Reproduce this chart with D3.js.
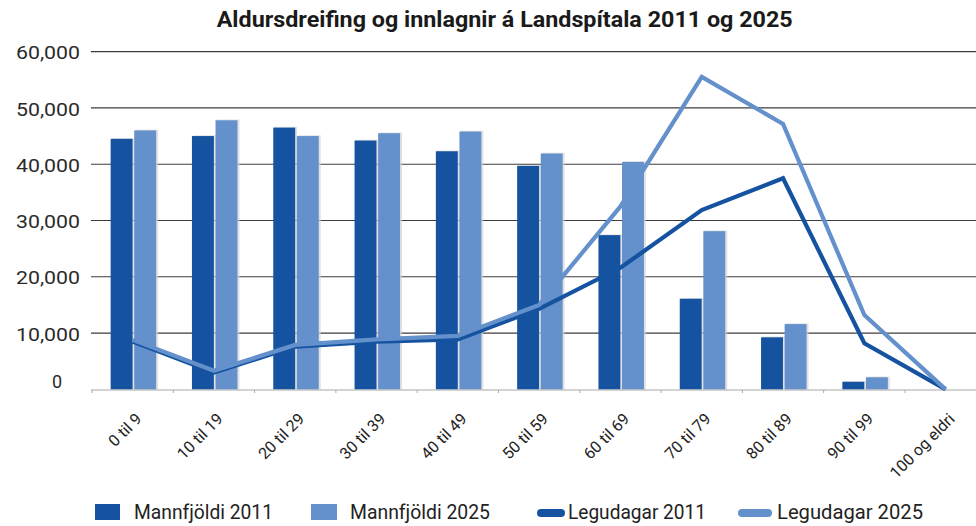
<!DOCTYPE html>
<html>
<head>
<meta charset="utf-8">
<script src="https://cdn.jsdelivr.net/npm/d3@7/dist/d3.min.js"></script>
<style>
  html, body { margin: 0; padding: 0; background: #fff; }
  svg { display: block; font-family: Roboto, "Noto Sans", sans-serif; }
</style>
</head>
<body>
<svg id="chart" width="976" height="526"></svg>
<script>
const title = "Aldursdreifing og innlagnir á Landspítala 2011 og 2025";
const categories = ["0 til 9","10 til 19","20 til 29","30 til 39","40 til 49","50 til 59","60 til 69","70 til 79","80 til 89","90 til 99","100 og eldri"];
const mannfjoldi2011 = [44500, 45000, 46500, 44200, 42300, 39700, 27400, 16100, 9250, 1350, 0];
const mannfjoldi2025 = [46000, 47800, 45000, 45500, 45800, 41900, 40400, 28100, 11600, 2150, 0];
const legudagar2011 = [8500, 3000, 7600, 8500, 8900, 14300, 21600, 31850, 37500, 8200, 0];
const legudagar2025 = [8800, 3300, 7900, 8900, 9500, 15000, 32500, 55500, 47150, 13200, 0];
const yTicks = [0, 10000, 20000, 30000, 40000, 50000, 60000];
const seriesNames = ["Mannfjöldi 2011", "Mannfjöldi 2025", "Legudagar 2011", "Legudagar 2025"];
const colors = {dark: "#1553a1", light: "#6491cb"};

const svg = d3.select("#chart");
const x = d3.scaleBand().domain(categories).range([92, 986.3]).padding(0);
const y = d3.scaleLinear().domain([0, 60000]).range([389.4, 51.6]);
const xSub = d3.scaleBand().domain(["2011", "2025"]).range([-22, 23.5]).paddingInner(0.07);
const cx = c => x(c) + x.bandwidth() / 2;

// Title
svg.append("text").attr("x", 504.7).attr("y", 26.7).attr("text-anchor", "middle")
  .attr("font-size", 22).attr("font-weight", "bold").attr("fill", "#1a1a1a")
  .attr("textLength", 576).attr("lengthAdjust", "spacingAndGlyphs").text(title);

// Gridlines
svg.append("g").selectAll("line").data(yTicks.filter(d => d > 0)).join("line")
  .attr("x1", 91).attr("x2", 976).attr("y1", d => y(d)).attr("y2", d => y(d))
  .attr("stroke", "#3c3c3c").attr("stroke-width", 1.1);

// Y labels
svg.append("g").selectAll("text").data(yTicks).join("text")
  .attr("x", d => d === 0 ? 62 : 80)
  .attr("y", d => d === 0 ? y(d) - 1 : y(d) + 7.6)
  .attr("text-anchor", "end").attr("font-size", 18).attr("fill", "#2a2a2a")
  .each(function(d) { if (d !== 0) d3.select(this).attr("textLength", 64).attr("lengthAdjust", "spacingAndGlyphs"); })
  .text(d => d3.format(",")(d));

// Bars
const barData = [];
categories.forEach((c, i) => {
  barData.push({c, s: "2011", v: mannfjoldi2011[i], col: colors.dark});
  barData.push({c, s: "2025", v: mannfjoldi2025[i], col: colors.light});
});
const visibleBars = barData.filter(d => d.v > 0);
const gb = svg.append("g");
gb.selectAll("rect.sh").data(visibleBars).join("rect").attr("class", "sh")
  .attr("x", d => cx(d.c) + xSub(d.s) + 1.2).attr("y", d => y(d.v) - 0.8)
  .attr("width", xSub.bandwidth() + 0.8).attr("height", d => y(0) - y(d.v) + 0.8)
  .attr("fill", "#d4d4d4").attr("opacity", 0.7);
gb.selectAll("rect.bar").data(visibleBars).join("rect").attr("class", "bar")
  .attr("x", d => cx(d.c) + xSub(d.s)).attr("y", d => y(d.v))
  .attr("width", xSub.bandwidth()).attr("height", d => y(0) - y(d.v))
  .attr("fill", d => d.col);

// X axis baseline and ticks
const ga = svg.append("g");
ga.append("line").attr("x1", 91).attr("x2", 976).attr("y1", 390).attr("y2", 390)
  .attr("stroke", "#a8a8a8").attr("stroke-width", 1.2);
ga.selectAll("line.t").data(categories).join("line").attr("class", "t")
  .attr("x1", d => x(d)).attr("x2", d => x(d)).attr("y1", 390).attr("y2", 393)
  .attr("stroke", "#a8a8a8").attr("stroke-width", 1);

// X labels
svg.append("g").selectAll("text").data(categories).join("text")
  .attr("transform", d => `translate(${cx(d) + 10},${420}) rotate(-45)`)
  .attr("text-anchor", "end").attr("font-size", 16).attr("fill", "#222")
  .text(d => d);

// Lines
const line = d3.line().x((d, i) => cx(categories[i])).y(d => y(d));
svg.append("path").datum(legudagar2011).attr("d", line).attr("fill", "none")
  .attr("stroke", colors.dark).attr("stroke-width", 4.2);
svg.append("path").datum(legudagar2025).attr("d", line).attr("fill", "none")
  .attr("stroke", colors.light).attr("stroke-width", 4.2);

// Legend
const lg = svg.append("g");
lg.append("rect").attr("x", 95).attr("y", 504).attr("width", 25).attr("height", 16).attr("fill", colors.dark);
lg.append("text").attr("x", 134).attr("y", 519.3).attr("font-size", 20).attr("fill", "#222")
  .attr("textLength", 139).attr("lengthAdjust", "spacingAndGlyphs").text(seriesNames[0]);
lg.append("rect").attr("x", 311).attr("y", 504).attr("width", 26).attr("height", 16).attr("fill", colors.light);
lg.append("text").attr("x", 350).attr("y", 519.3).attr("font-size", 20).attr("fill", "#222")
  .attr("textLength", 140).attr("lengthAdjust", "spacingAndGlyphs").text(seriesNames[1]);
lg.append("line").attr("x1", 541).attr("x2", 561).attr("y1", 513).attr("y2", 513)
  .attr("stroke", colors.dark).attr("stroke-width", 8).attr("stroke-linecap", "round");
lg.append("text").attr("x", 568).attr("y", 519.3).attr("font-size", 20).attr("fill", "#222")
  .attr("textLength", 138).attr("lengthAdjust", "spacingAndGlyphs").text(seriesNames[2]);
lg.append("line").attr("x1", 742).attr("x2", 768).attr("y1", 513).attr("y2", 513)
  .attr("stroke", colors.light).attr("stroke-width", 8).attr("stroke-linecap", "round");
lg.append("text").attr("x", 777).attr("y", 519.3).attr("font-size", 20).attr("fill", "#222")
  .attr("textLength", 146).attr("lengthAdjust", "spacingAndGlyphs").text(seriesNames[3]);
</script>
</body>
</html>
